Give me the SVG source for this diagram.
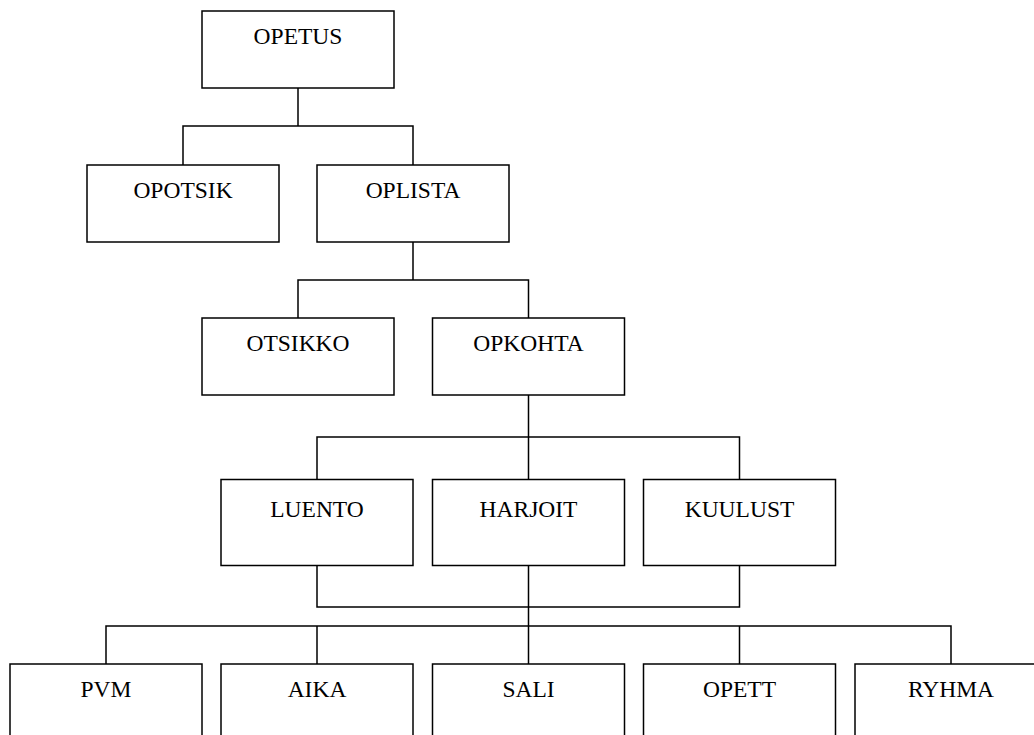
<svg xmlns="http://www.w3.org/2000/svg" width="1034" height="735" viewBox="0 0 1034 735">
  <style>
    .box { fill: #fff; stroke: #000; stroke-width: 1.5; }
    .lbl { font-family: "Liberation Serif", "Times New Roman", serif; font-size: 23.5px; fill: #000; text-anchor: middle; }
    .wire { fill: none; stroke: #000; stroke-width: 1.5; }
  </style>
  <rect width="1034" height="735" fill="#fff"/>

  <!-- connectors -->
  <g id="connectors" class="wire">
    <path d="M298 88 V126 M183 165 V126 H413 V165"/>
    <path d="M413 242 V280 M298 318 V280 H528.5 V318"/>
    <path d="M528.5 395 V479.5 M317 479.5 V437 H739.5 V479.5"/>
    <path d="M317 565.5 V607 H739.5 V565.5 M528.5 565.5 V664"/>
    <path d="M106 664 V626 H951 V664 M317 626 V664 M739.5 626 V664"/>
  </g>

  <!-- level 0 -->
  <g id="opetus"><rect class="box" x="202" y="11" width="192" height="77"/><text class="lbl" x="298" y="44">OPETUS</text></g>

  <!-- level 1 -->
  <g id="opotsik"><rect class="box" x="87" y="165" width="192" height="77"/><text class="lbl" x="183" y="198">OPOTSIK</text></g>
  <g id="oplista"><rect class="box" x="317" y="165" width="192" height="77"/><text class="lbl" x="413" y="198">OPLISTA</text></g>

  <!-- level 2 -->
  <g id="otsikko"><rect class="box" x="202" y="318" width="192" height="77"/><text class="lbl" x="298" y="351">OTSIKKO</text></g>
  <g id="opkohta"><rect class="box" x="432.5" y="318" width="192" height="77"/><text class="lbl" x="528.5" y="351">OPKOHTA</text></g>

  <!-- level 3 -->
  <g id="luento"><rect class="box" x="221" y="479.5" width="192" height="86"/><text class="lbl" x="317" y="516.5">LUENTO</text></g>
  <g id="harjoit"><rect class="box" x="432.5" y="479.5" width="192" height="86"/><text class="lbl" x="528.5" y="516.5">HARJOIT</text></g>
  <g id="kuulust"><rect class="box" x="643.5" y="479.5" width="192" height="86"/><text class="lbl" x="739.5" y="516.5">KUULUST</text></g>

  <!-- level 4 -->
  <g id="pvm"><rect class="box" x="10" y="664" width="192" height="77"/><text class="lbl" x="106" y="697">PVM</text></g>
  <g id="aika"><rect class="box" x="221" y="664" width="192" height="77"/><text class="lbl" x="317" y="697">AIKA</text></g>
  <g id="sali"><rect class="box" x="432.5" y="664" width="192" height="77"/><text class="lbl" x="528.5" y="697">SALI</text></g>
  <g id="opett"><rect class="box" x="643.5" y="664" width="192" height="77"/><text class="lbl" x="739.5" y="697">OPETT</text></g>
  <g id="ryhma"><rect class="box" x="855" y="664" width="192" height="77"/><text class="lbl" x="951" y="697">RYHMA</text></g>
</svg>
